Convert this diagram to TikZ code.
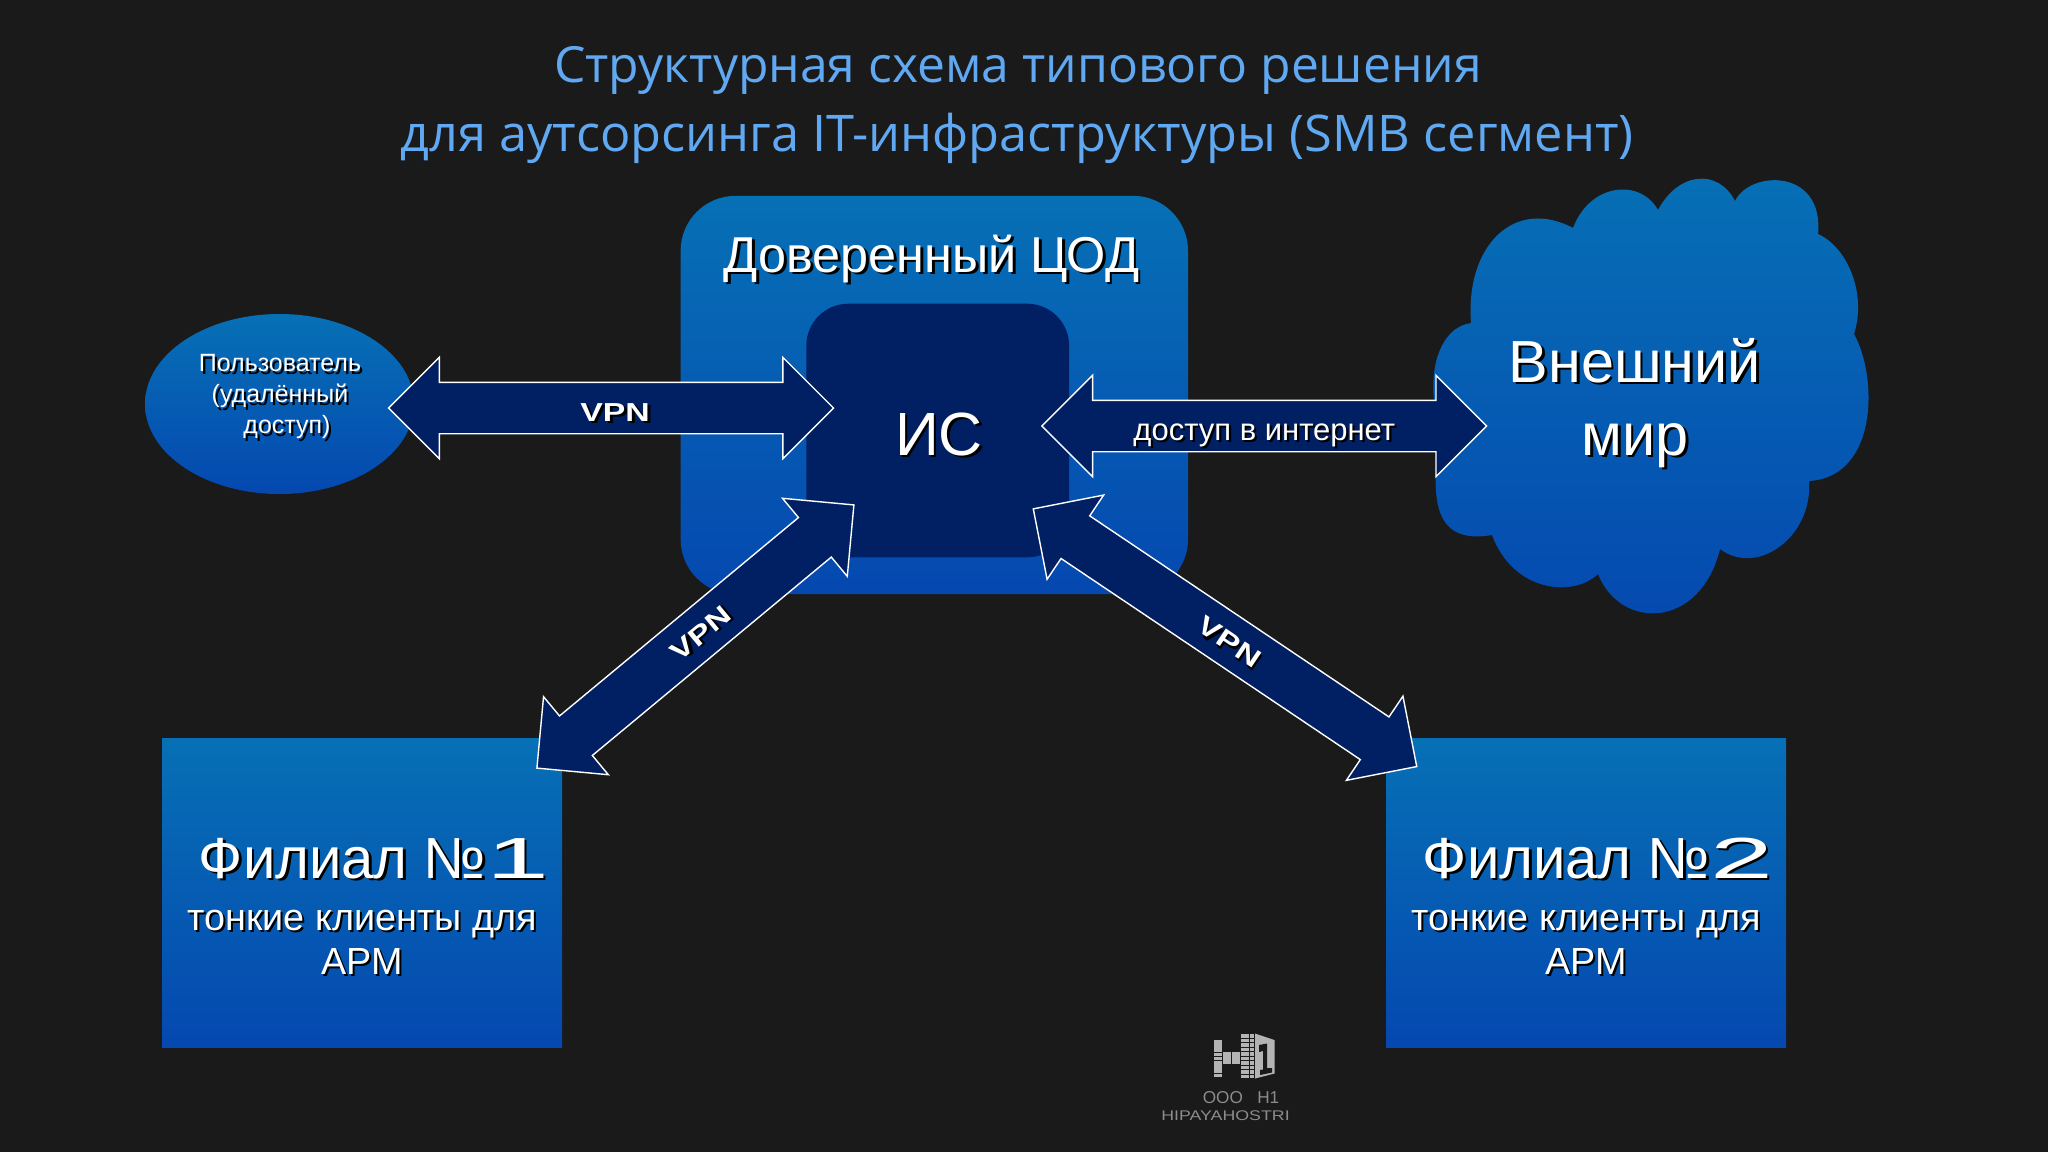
\documentclass[tikz,border=0pt]{standalone}
\usepackage{fontspec}
\usepackage{graphicx}
\usetikzlibrary{shapes.geometric,shapes.arrows}
\setmainfont{Liberation Sans}
\newfontfamily\titlefont{Open Sans}
\definecolor{bgc}{HTML}{1A1A1A}
\definecolor{blueT}{HTML}{0670B5}
\definecolor{blueB}{HTML}{0548B0}
\definecolor{navy}{HTML}{011F63}
\definecolor{titlec}{HTML}{60A9F2}
\definecolor{logoc}{HTML}{B4B4B4}
\definecolor{logot}{HTML}{8C8C8C}
\newcommand{\shad}[2][1.1pt]{\leavevmode\rlap{\kern#1\raisebox{-#1}{\textcolor{black}{#2}}}#2}
\newcommand{\fs}[2]{\fontsize{#1}{#2}\selectfont}
\newcommand{\vpnlabel}[1]{\hspace*{#1}\scalebox{1.3}[1]{\shad{\bfseries VPN}}}
\tikzset{
  gradfill/.style={top color=blueT,bottom color=blueB,draw=none,inner sep=0pt},
  blockarrow/.style={double arrow,double arrow head extend=12.5pt,double arrow tip angle=90,
    minimum width=50pt,inner sep=0pt,outer sep=0pt,draw=white,line width=0.7pt,fill=navy,
    text=white,font=\fs{13}{15},text height=17.5pt,text depth=7.5pt},
  whitetext/.style={text=white,inner sep=0pt,align=center},
  titletext/.style={text=titlec,inner sep=0pt,anchor=base,font=\titlefont\fs{24.9}{30}},
  logotext/.style={text=logot,inner sep=0pt,anchor=base},
  cell/.style={fill=logoc,draw=none}
}
\begin{document}
\begin{tikzpicture}[x=0.5pt,y=-0.5pt]
\fill[bgc] (0,0) rectangle (2048,1152);
\useasboundingbox (0,0) rectangle (2048,1152);
% title
\node[titletext] (title1) at (1018,82) {Структурная схема типового решения};
\node[titletext,font=\titlefont\fs{25.25}{30}] (title2) at (1017,151) {для аутсорсинга IT-инфраструктуры (SMB сегмент)};
% cloud
\path[top color=blueT,bottom color=blueB] (1471,323)
  .. controls (1465,245) and (1515,197) .. (1573,228)
  .. controls (1590,183) and (1640,178) .. (1658,210)
  .. controls (1678,172) and (1718,168) .. (1735,201)
  .. controls (1750,170) and (1824,168) .. (1818,234)
  .. controls (1847,247) and (1867,293) .. (1854,334)
  .. controls (1878,377) and (1878,477) .. (1809,481)
  .. controls (1813,537) and (1757,577) .. (1720,549)
  .. controls (1700,630) and (1620,630) .. (1598,574)
  .. controls (1573,598) and (1513,592) .. (1492,535)
  .. controls (1433,545) and (1430,500) .. (1440,430)
  .. controls (1423,373) and (1440,327) .. (1471,323) -- cycle;
% user ellipse
\node[ellipse,gradfill,minimum width=134.5pt,minimum height=90pt] (user) at (279.5,404) {};
% data centre
\node[rectangle,gradfill,rounded corners=27.5pt,minimum width=253.7pt,minimum height=199.2pt] (dc) at (934.3,395) {};
\node[rectangle,draw=none,fill=navy,rounded corners=21pt,minimum width=131.4pt,minimum height=126.8pt,inner sep=0pt] (is) at (937.7,430.5) {};
% branch boxes
\node[rectangle,gradfill,minimum width=200pt,minimum height=154.5pt] (br1) at (362,893) {};
\node[rectangle,gradfill,minimum width=200pt,minimum height=154.5pt] (br2) at (1586,893) {};
% block arrows
\node[blockarrow,minimum height=222.4pt,text height=19.3pt,text depth=5.7pt] (a1) at (611.1,408) {\vpnlabel{4pt}};
\node[blockarrow,minimum height=222.4pt,font=\fs{15.5}{18},text height=19.6pt,text depth=5.4pt] (a2) at (1264.3,426) {\shad{доступ в интернет}};
\node[blockarrow,minimum height=206pt,rotate=39.7] (a3) at (695.4,636.5) {\vpnlabel{6pt}};
\node[blockarrow,minimum height=231pt,rotate=-33.9] (a4) at (1225,637.7) {\vpnlabel{6pt}};
% texts
\node[whitetext,anchor=base,font=\fs{25.2}{30}] (dclabel) at (931.5,272) {\shad[1.3pt]{Доверенный ЦОД}};
\node[whitetext,anchor=base,font=\fs{30.5}{34}] (islabel) at (939,455) {\shad[1.3pt]{ИС}};
\node[whitetext,font=\fs{12.5}{15.5}] (userlabel) at (280,398) {\shad{Пользователь}\\\shad{(удалённый}\\\hspace*{7pt}\shad{доступ)}};
\node[whitetext,font=\fs{29.7}{36.5}] (worldlabel) at (1635,404) {\shad[1.3pt]{Внешний}\\\shad[1.3pt]{мир}};
\node[whitetext,anchor=base,font=\fs{29}{34}] (br1h) at (374,878) {\shad[1.3pt]{Филиал №\scalebox{1.95}[1]{1}}};
\node[whitetext,font=\fs{18.9}{22}] (br1t) at (362,943) {\shad{тонкие клиенты для}\\\shad{АРМ}};
\node[whitetext,anchor=base,font=\fs{29}{34}] (br2h) at (1598,878) {\shad[1.3pt]{Филиал №\scalebox{1.95}[1]{2}}};
\node[whitetext,font=\fs{18.9}{22}] (br2t) at (1586,943) {\shad{тонкие клиенты для}\\\shad{АРМ}};
% logo
\foreach \i in {0,1} \foreach \j in {0,...,8}
  \fill[cell] ({1214+\i*4.4},{1040+\j*4.2}) rectangle +(3.7,3.5);
\foreach \i in {0,...,3} \foreach \j in {0,1,2}
  \fill[cell] ({1223+\i*4.4},{1052+\j*4.2}) rectangle +(3.7,3.5);
\foreach \i in {0,1,2} \foreach \j in {0,...,9}
  \fill[cell] ({1241+\i*4.4},{1034+\j*4.5}) rectangle +(3.7,3.8);
\fill[logoc] (1255,1033.5) -- (1274.5,1040) -- (1274.5,1073.5) -- (1255,1078.5) -- cycle;
\fill[bgc] (1259,1045) -- (1267,1043.5) -- (1267,1068) -- (1272,1068) -- (1272,1072.5) -- (1260,1075) -- (1260,1070) -- (1263,1069.5) -- (1263,1051) -- (1259,1052) -- cycle;
\node[logotext,font=\fs{8.6}{10}] (logo1) at (1241,1103) {ООО \ \ Н1};
\node[logotext,font=\fs{7}{8}] (logo2) at (1225.5,1120) {\scalebox{1.27}[1]{HIPAYAHOSTRI}};
\end{tikzpicture}
\end{document}
